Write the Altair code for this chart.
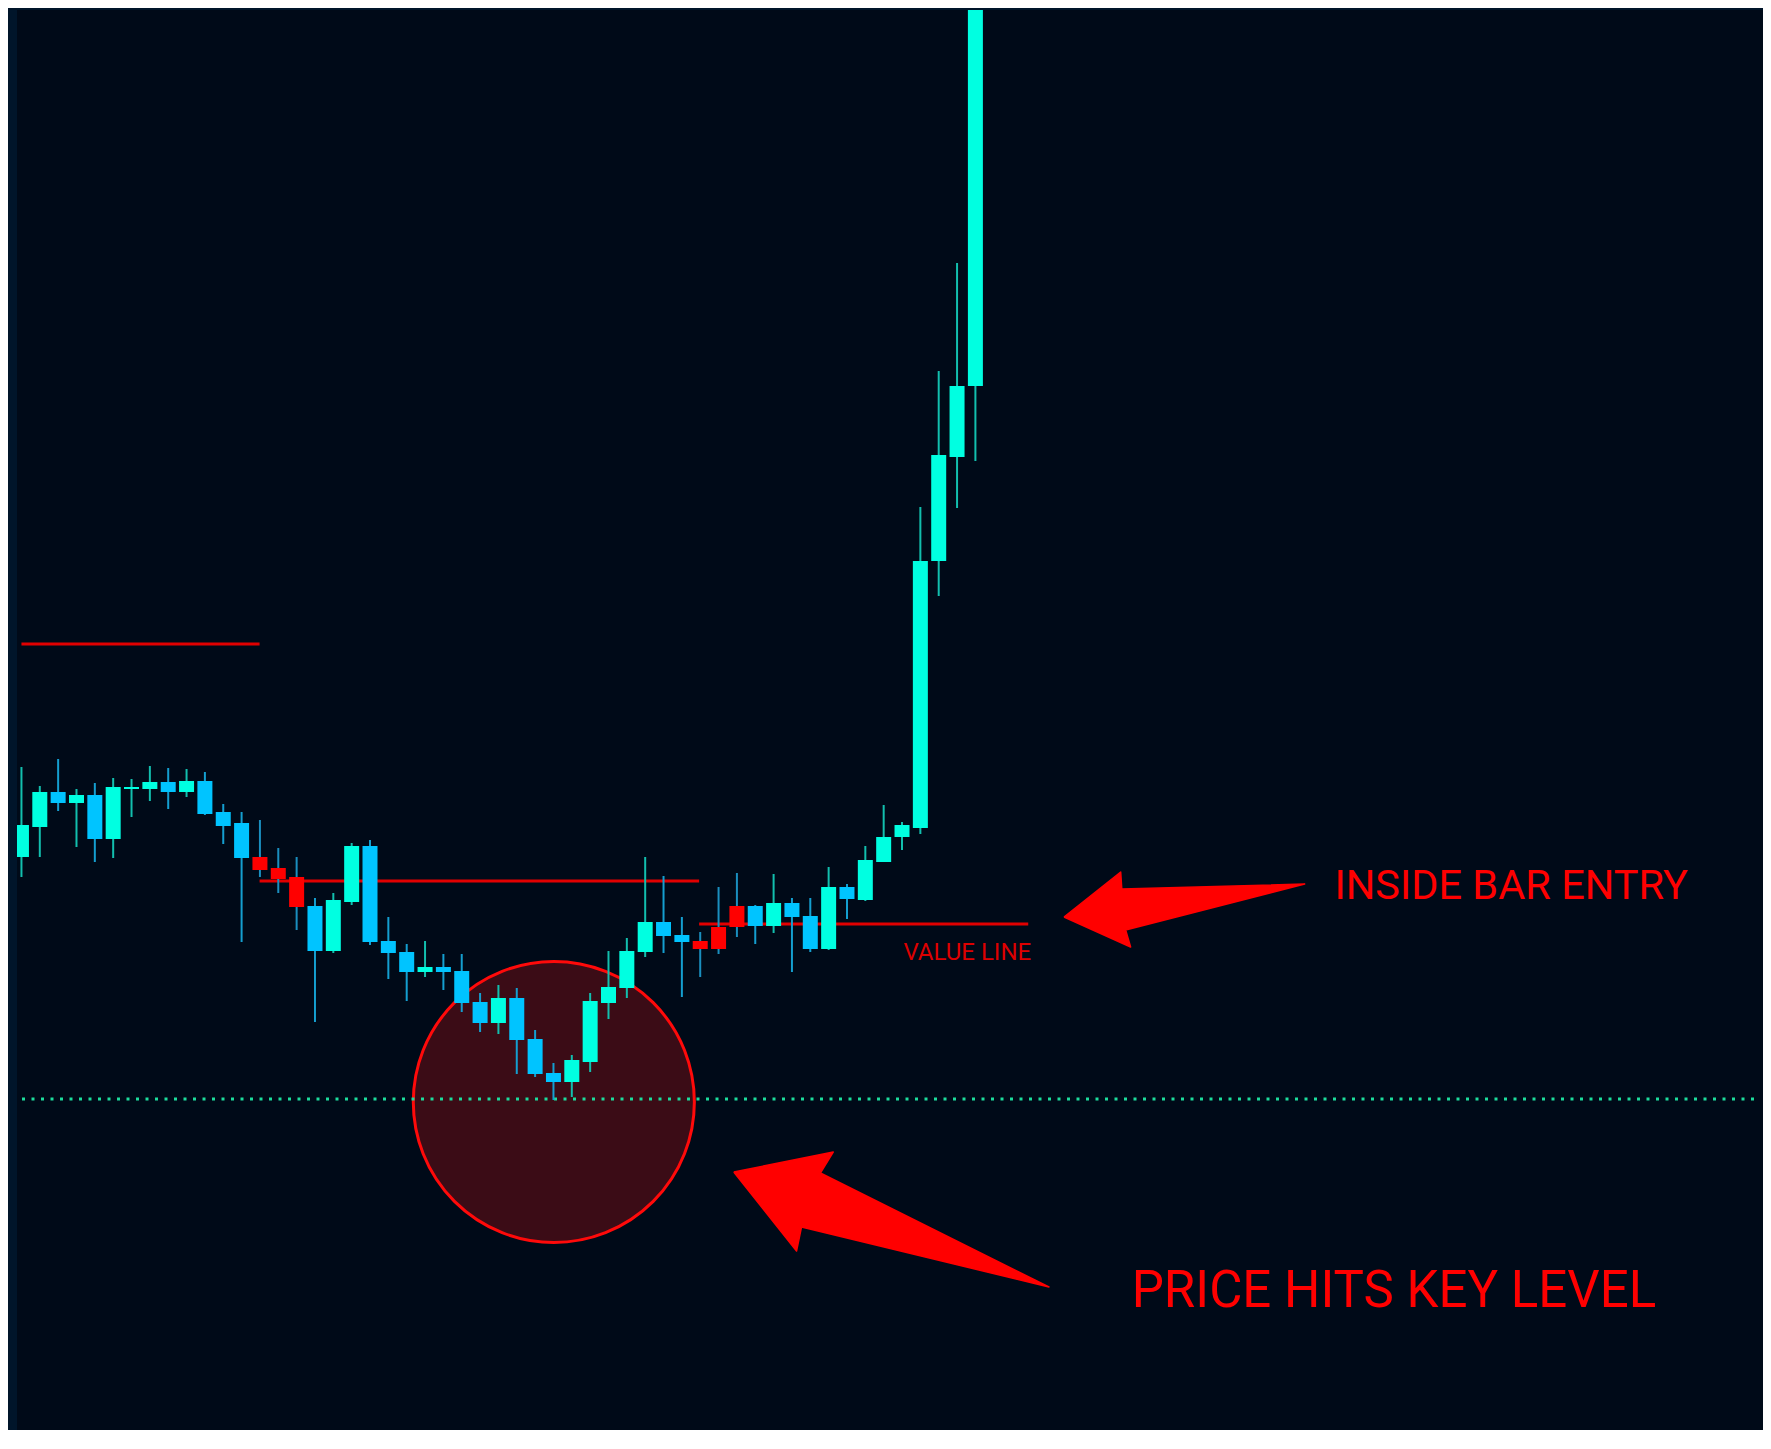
import altair as alt
import pandas as pd

# ---- candle data (price units) ----
idx = list(range(53))
opens = [1.1242, 1.1272, 1.1307, 1.1296, 1.1304, 1.1260, 1.1310, 1.1310, 1.1317, 1.1307,
         1.1318, 1.1287, 1.1276, 1.1242, 1.1231, 1.1222, 1.1193, 1.1148, 1.1197, 1.1253,
         1.1158, 1.1147, 1.1127, 1.1132, 1.1128, 1.1097, 1.1076, 1.1101, 1.1060, 1.1026,
         1.1017, 1.1037, 1.1096, 1.1111, 1.1147, 1.1177, 1.1164, 1.1158, 1.1150, 1.1193,
         1.1193, 1.1173, 1.1196, 1.1183, 1.1150, 1.1212, 1.1199, 1.1237, 1.1262, 1.1271,
         1.1538, 1.1642, 1.1713]
highs = [1.1332, 1.1313, 1.1340, 1.1310, 1.1316, 1.1321, 1.1320, 1.1333, 1.1331, 1.1330,
         1.1327, 1.1295, 1.1287, 1.1279, 1.1251, 1.1242, 1.1201, 1.1206, 1.1256, 1.1259,
         1.1182, 1.1155, 1.1158, 1.1145, 1.1145, 1.1106, 1.1114, 1.1111, 1.1069, 1.1036,
         1.1044, 1.1106, 1.1148, 1.1161, 1.1242, 1.1223, 1.1182, 1.1167, 1.1212, 1.1226,
         1.1194, 1.1225, 1.1201, 1.1201, 1.1232, 1.1215, 1.1253, 1.1294, 1.1277, 1.1592,
         1.1728, 1.1836, 1.2219]
lows = [1.1222, 1.1242, 1.1288, 1.1252, 1.1237, 1.1241, 1.1282, 1.1298, 1.1290, 1.1302,
        1.1284, 1.1255, 1.1157, 1.1222, 1.1206, 1.1169, 1.1077, 1.1146, 1.1194, 1.1154,
        1.1120, 1.1098, 1.1122, 1.1109, 1.1087, 1.1067, 1.1065, 1.1025, 1.1022, 1.0999,
        1.1002, 1.1027, 1.1080, 1.1101, 1.1142, 1.1146, 1.1102, 1.1122, 1.1145, 1.1162,
        1.1155, 1.1166, 1.1127, 1.1147, 1.1149, 1.1180, 1.1198, 1.1237, 1.1249, 1.1265,
        1.1503, 1.1591, 1.1638]
closes = [1.1274, 1.1307, 1.1296, 1.1304, 1.1260, 1.1312, 1.1312, 1.1317, 1.1307, 1.1318,
          1.1285, 1.1273, 1.1241, 1.1229, 1.1220, 1.1192, 1.1148, 1.1199, 1.1253, 1.1157,
          1.1146, 1.1127, 1.1132, 1.1127, 1.1096, 1.1076, 1.1101, 1.1059, 1.1025, 1.1017,
          1.1039, 1.1098, 1.1112, 1.1148, 1.1177, 1.1163, 1.1157, 1.1150, 1.1172, 1.1172,
          1.1173, 1.1196, 1.1182, 1.1150, 1.1212, 1.1200, 1.1239, 1.1262, 1.1274, 1.1538,
          1.1644, 1.1713, 1.2199]
kinds = ["up", "up", "down", "up", "down", "up", "up", "up", "down", "up",
         "down", "down", "down", "inside", "inside", "inside", "down", "up", "up", "down",
         "down", "down", "up", "down", "down", "down", "up", "down", "down", "down",
         "up", "up", "up", "up", "up", "down", "down", "inside", "inside", "inside",
         "down", "up", "down", "down", "up", "down", "up", "up", "up", "up",
         "up", "up", "up"]

# ---- annotation levels ----
line_start = [0.0, 12.98, 36.94]
line_end = [12.98, 36.94, 54.88]
line_price = [1.1455, 1.1218, 1.1175]
key_level = [1.1000]
circle_center = [29.02]
circle_price = [1.0997]

arrow_id = ["a1"] * 7 + ["a2"] * 7
arrow_order = [0, 1, 2, 3, 4, 5, 6] * 2
arrow_x = [56.83, 59.92, 59.98, 69.95, 60.19, 60.46, 56.83,
           38.83, 44.25, 43.55, 56.01, 42.52, 42.25, 38.83]
arrow_y = [1.1182, 1.1227, 1.1210, 1.1215, 1.1169, 1.1152, 1.1182,
           1.0927, 1.0947, 1.0926, 1.0812, 1.0872, 1.0848, 1.0927]

labels = ["INSIDE BAR ENTRY", "PRICE HITS KEY LEVEL", "VALUE LINE"]
label_x = [71.57, 60.52, 55.04]
label_y = [1.1200, 1.0792, 1.1139]

X_DOMAIN = [0.03, 94.66]
Y_DOMAIN = [1.0669, 1.2089]

BG_OUTER = "#00152a"
BG_PLOT = "#000a18"

xs = alt.Scale(domain=X_DOMAIN, nice=False, zero=False)
ys = alt.Scale(domain=Y_DOMAIN, nice=False, zero=False)

candles = pd.DataFrame(dict(i=idx, open=opens, high=highs, low=lows,
                            close=closes, kind=kinds))

body_scale = alt.Scale(domain=["up", "down", "inside"],
                       range=["#00ffe1", "#00c4ff", "#ff0000"])
wick_scale = alt.Scale(domain=["up", "down", "inside"],
                       range=["#12bfae", "#149fd0", "#1a8fbf"])

circle = alt.Chart(pd.DataFrame(dict(i=circle_center, p=circle_price))).mark_point(
    shape="circle", filled=True, fill="#3b0c16", stroke="#ff0a0a",
    strokeWidth=3, size=79000, opacity=1, fillOpacity=1, strokeOpacity=1
).encode(x=alt.X("i:Q", scale=xs, axis=None), y=alt.Y("p:Q", scale=ys, axis=None))

key_df = pd.DataFrame(dict(x0=[X_DOMAIN[0]], x1=[X_DOMAIN[1]], y=key_level))
key = alt.Chart(key_df).mark_rule(
    color="#1ddc9c", strokeWidth=3, strokeDash=[3, 6.5], clip=True
).encode(x=alt.X("x0:Q", scale=xs, axis=None), x2="x1:Q",
         y=alt.Y("y:Q", scale=ys, axis=None))

lines_df = pd.DataFrame(dict(x0=line_start, x1=line_end, y=line_price))
red_lines = alt.Chart(lines_df).mark_rule(color="#e10000", strokeWidth=3, clip=True).encode(
    x=alt.X("x0:Q", scale=xs, axis=None), x2="x1:Q",
    y=alt.Y("y:Q", scale=ys, axis=None))

wicks = alt.Chart(candles).mark_rule(strokeWidth=2, clip=True).encode(
    x=alt.X("i:Q", scale=xs, axis=None),
    y=alt.Y("low:Q", scale=ys, axis=None), y2="high:Q",
    color=alt.Color("kind:N", scale=wick_scale, legend=None))

bodies = alt.Chart(candles).mark_bar(size=15, clip=True).encode(
    x=alt.X("i:Q", scale=xs, axis=None),
    y=alt.Y("open:Q", scale=ys, axis=None), y2="close:Q",
    color=alt.Color("kind:N", scale=body_scale, legend=None))

arrows_df = pd.DataFrame(dict(a=arrow_id, k=arrow_order, x=arrow_x, y=arrow_y))
arrows = alt.Chart(arrows_df).mark_line(
    fill="#ff0000", stroke="#ff0000", strokeWidth=1.5, strokeJoin="round"
).encode(x=alt.X("x:Q", scale=xs, axis=None), y=alt.Y("y:Q", scale=ys, axis=None),
         detail="a:N", order="k:Q")

lab_df = pd.DataFrame(dict(t=labels, x=label_x, y=label_y))
t1 = alt.Chart(lab_df.iloc[[0]]).mark_text(
    align="left", baseline="alphabetic", font="Roboto", fontSize=41.5, color="#ff0000"
).encode(x=alt.X("x:Q", scale=xs, axis=None), y=alt.Y("y:Q", scale=ys, axis=None), text="t:N")
t2 = alt.Chart(lab_df.iloc[[1]]).mark_text(
    align="left", baseline="alphabetic", font="Roboto", fontSize=51, color="#ff0000"
).encode(x=alt.X("x:Q", scale=xs, axis=None), y=alt.Y("y:Q", scale=ys, axis=None), text="t:N")
t3 = alt.Chart(lab_df.iloc[[2]]).mark_text(
    align="right", baseline="alphabetic", font="Roboto", fontSize=24, color="#dd0000"
).encode(x=alt.X("x:Q", scale=xs, axis=None), y=alt.Y("y:Q", scale=ys, axis=None), text="t:N")

chart = alt.layer(
    circle, key, red_lines, wicks, bodies, arrows, t1, t2, t3
).resolve_scale(color="independent").properties(
    width=1746, height=1420, background=BG_OUTER,
    padding={"left": 9, "top": 2, "right": 0, "bottom": 0},
    autosize=alt.AutoSizeParams(type="none"),
).configure_view(fill=BG_PLOT, strokeWidth=0)

chart.save("out.html", embed_options={"renderer": "svg", "actions": False})
